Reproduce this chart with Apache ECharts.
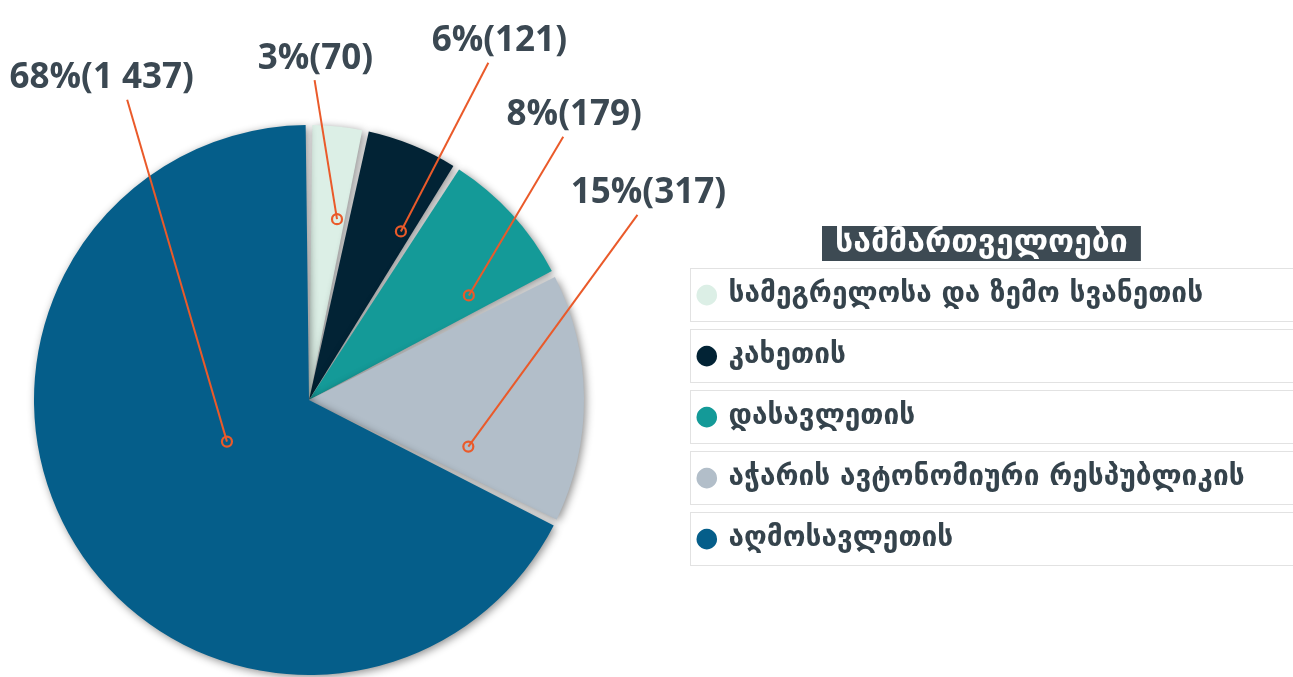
<!DOCTYPE html>
<html>
<head>
<meta charset="utf-8">
<script src="https://cdn.jsdelivr.net/npm/echarts@6/dist/echarts.min.js"></script>
<style>
html,body{margin:0;padding:0;background:#fff}
#main{width:1293px;height:677px}
</style>
</head>
<body>
<div id="main"></div>
<script>
var names = ['სამეგრელოსა და ზემო სვანეთის', 'კახეთის', 'დასავლეთის', 'აჭარის ავტონომიური რესპუბლიკის', 'აღმოსავლეთის'];
var values = [70, 121, 179, 317, 1437];
var colors = ['#dcefe6', '#022335', '#149a98', '#b2bec9', '#055e8a'];

// leader lines: ring anchor and label end, as angle clockwise from top (deg) + distance from centre (px)
var dotAngle = [8.8, 28.6, 56.8, 106.3, 243.1];
var dotDist = [183, 192, 191, 166, 92];
var labelAngle = [1, 28, 44, 60.6, 328.8];
var labelDist = [320, 382, 366, 377, 351];

var cx = 309, cy = 400, R = 275;
var orange = '#ea5a2a';
var total = values.reduce(function (a, b) { return a + b; }, 0);

function polar(deg, dist) {
    var a = deg * Math.PI / 180;
    return [cx + dist * Math.sin(a), cy - dist * Math.cos(a)];
}
function fmtNum(v) {
    return String(v).replace(/\B(?=(\d{3})+(?!\d))/g, ' ');
}

var pieData = names.map(function (n, i) {
    return { name: n, value: values[i], itemStyle: { color: colors[i] } };
});
var leaderData = values.map(function (v, i) {
    return { coords: [polar(dotAngle[i], dotDist[i]), polar(labelAngle[i], labelDist[i])] };
});
var ringData = values.map(function (v, i) {
    return polar(dotAngle[i], dotDist[i]);
});

var rich = { t: { fontSize: 28, fontWeight: 'bold', color: '#35434c', fontFamily: 'DejaVu Sans', padding: [0, 0, 0, 10] } };
colors.forEach(function (c, i) {
    rich['c' + i] = { fontSize: 27, color: c, fontFamily: 'DejaVu Sans' };
});

var chart = echarts.init(document.getElementById('main'));
var W = chart.getWidth(), H = chart.getHeight();
var option = {
    backgroundColor: '#fff',
    animation: false,
    title: {
        text: 'სამმართველოები',
        left: 822,
        top: 226,
        backgroundColor: '#3d4a53',
        padding: [1, 13, 1, 13],
        textStyle: { color: '#fff', fontSize: 32, lineHeight: 33, fontWeight: 'bold', fontFamily: 'DejaVu Sans' }
    },
    grid: { left: 0, right: 0, top: 0, bottom: 0 },
    xAxis: { type: 'value', min: 0, max: W, show: false },
    yAxis: { type: 'value', min: 0, max: H, inverse: true, show: false },
    legend: {
        orient: 'vertical',
        left: 681,
        top: 263,
        itemGap: 7,
        icon: 'none',
        itemWidth: 0,
        selectedMode: false,
        data: names,
        formatter: function (name) {
            return '{c' + names.indexOf(name) + '|●}{t|' + name + '}';
        },
        textStyle: {
            width: 600,
            height: 52,
            lineHeight: 52,
            padding: [0, 0, 0, 4],
            backgroundColor: '#fff',
            borderColor: '#e2e2e2',
            borderWidth: 1,
            rich: rich
        }
    },
    series: [
        {
            type: 'pie',
            center: [cx, cy],
            radius: R,
            startAngle: 90,
            clockwise: true,
            padAngle: 1.4,
            data: pieData,
            itemStyle: {
                shadowBlur: 8,
                shadowOffsetX: 2,
                shadowOffsetY: 2,
                shadowColor: 'rgba(0,0,0,0.45)'
            },
            label: {
                show: true,
                position: 'outside',
                overflow: 'none',
                fontFamily: 'Open Sans',
                fontSize: 35,
                fontWeight: 'bold',
                color: '#3b4852',
                formatter: function (p) {
                    return Math.round(p.value / total * 100) + '%(' + fmtNum(p.value) + ')';
                }
            },
            labelLine: { show: false },
            labelLayout: function (p) {
                var i = p.dataIndex;
                var e = polar(labelAngle[i], labelDist[i]);
                var shift = Math.max(-26, Math.min(11, 0.14 * (e[0] - cx)));
                return {
                    x: e[0] + shift,
                    y: e[1] - 4,
                    width: 320,
                    align: 'center',
                    verticalAlign: 'bottom'
                };
            },
            emphasis: { disabled: true }
        },
        {
            type: 'lines',
            coordinateSystem: 'cartesian2d',
            silent: true,
            data: leaderData,
            lineStyle: { color: orange, width: 2, opacity: 1, curveness: 0 },
            z: 5
        },
        {
            type: 'scatter',
            silent: true,
            data: ringData,
            symbol: 'circle',
            symbolSize: 10,
            itemStyle: { color: 'rgba(0,0,0,0)', borderColor: orange, borderWidth: 2.2, opacity: 1 },
            z: 6
        }
    ]
};
chart.setOption(option);
</script>
</body>
</html>
